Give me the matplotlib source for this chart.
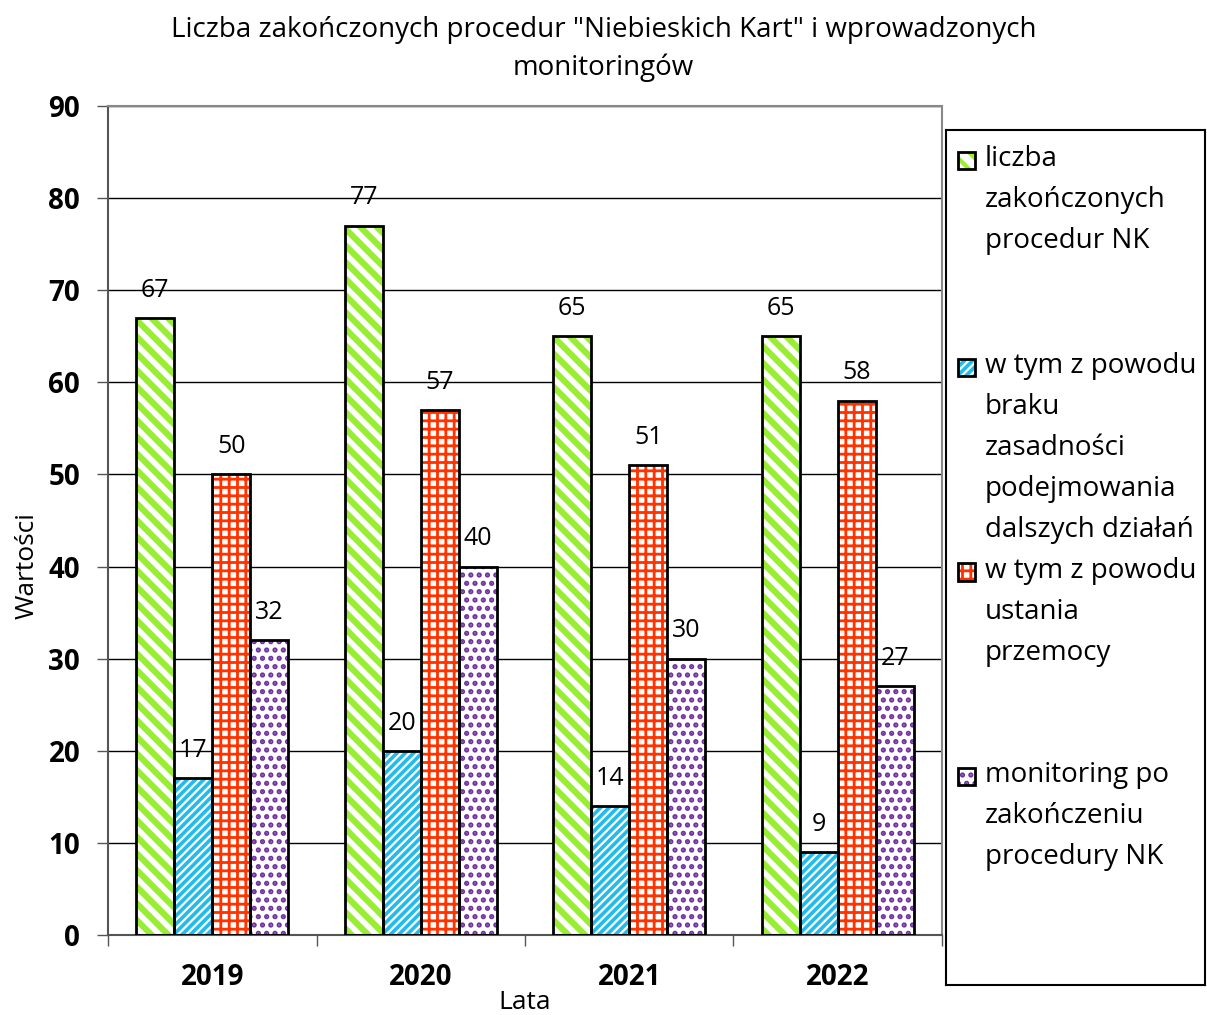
import matplotlib.pyplot as plt
import matplotlib.patches as mpatches
import numpy as np

plt.rcParams['font.family'] = ['Open Sans', 'DejaVu Sans']

years = ['2019', '2020', '2021', '2022']
series_labels = [
    'liczba\nzakończonych\nprocedur NK',
    'w tym z powodu\nbraku\nzasadności\npodejmowania\ndalszych działań',
    'w tym z powodu\nustania\nprzemocy',
    'monitoring po\nzakończeniu\nprocedury NK',
]
zakonczone = [67, 77, 65, 65]
brak_zasadnosci = [17, 20, 14, 9]
ustanie_przemocy = [50, 57, 51, 58]
monitoring = [32, 40, 30, 27]

values = [zakonczone, brak_zasadnosci, ustanie_przemocy, monitoring]
colors = ['#99ee33', '#22bbee', '#ff3300', '#7030a0']
hatches = ['\\\\', '////', '++', '..']
hatch_lw = [4.5, 2.6, 2.0, 2.5]

fig = plt.figure(figsize=(12.07, 10.15), dpi=100)
ax = fig.add_axes([108 / 1207, 80 / 1015, 834 / 1207, 829 / 1015])

x = np.arange(len(years))
width = 0.182
offsets = (np.arange(4) - 1.5) * width

for vals, col, hat, hlw, off in zip(values, colors, hatches, hatch_lw, offsets):
    with plt.rc_context({'hatch.linewidth': hlw}):
        ax.bar(x + off, vals, width, color='white', edgecolor=col, hatch=hat,
               linewidth=0, zorder=2)
    ax.bar(x + off, vals, width, fill=False, edgecolor='black',
           linewidth=2, zorder=3)
    for xi, v in zip(x + off, vals):
        ax.annotate(str(v), xy=(xi, v), xytext=(0, 11), textcoords='offset points',
                    ha='center', va='bottom', fontsize=18)

ax.set_xlim(-0.5, len(years) - 0.5)
ax.set_ylim(0, 90)
ax.set_yticks(np.arange(0, 91, 10))
ax.yaxis.grid(True, color='black', linewidth=1)
ax.set_axisbelow(True)
ax.tick_params(axis='y', labelsize=20, length=8, width=1, color='#555555', pad=12)
for lab in ax.get_yticklabels():
    lab.set_fontweight('bold')

ax.set_xticks(x)
ax.set_xticklabels(years, fontsize=20, fontweight='bold')
ax.tick_params(axis='x', length=0, pad=20)
ax.set_xticks(np.arange(-0.5, len(years), 1), minor=True)
ax.tick_params(axis='x', which='minor', length=8, width=1, color='#555555')

for s in ax.spines.values():
    s.set_color('#888888')
    s.set_linewidth(1.5)
ax.spines['bottom'].set_color('#555555')
ax.spines['left'].set_color('#555555')

ax.set_xlabel('Lata', fontsize=19)
ax.xaxis.set_label_coords(0.5, -0.066)
ax.set_ylabel('Wartości', fontsize=19)
ax.yaxis.set_label_coords(-0.082, 0.446)
fig.text(0.5, 1 - 16 / 1015,
         'Liczba zakończonych procedur "Niebieskich Kart" i wprowadzonych\nmonitoringów',
         ha='center', va='top', fontsize=20, linespacing=1.45)

# legend box
lax = fig.add_axes([946 / 1207, 30 / 1015, 259 / 1207, 855 / 1015])
lax.set_xlim(0, 1)
lax.set_ylim(0, 1)
lax.set_xticks([])
lax.set_yticks([])
for s in lax.spines.values():
    s.set_color('black')
    s.set_linewidth(1.5)
entry_tops = [0.982, 0.74, 0.501, 0.262]
for top, lab, col, hat, hlw in zip(entry_tops, series_labels, colors, hatches, hatch_lw):
    with plt.rc_context({'hatch.linewidth': min(hlw, 3.0)}):
        lax.add_patch(mpatches.Rectangle((0.046, top - 0.028), 0.066, 0.02,
                                         facecolor='white', edgecolor=col,
                                         hatch=hat, linewidth=0))
    lax.add_patch(mpatches.Rectangle((0.046, top - 0.028), 0.066, 0.02, fill=False,
                                     edgecolor='black', linewidth=2))
    lax.text(0.15, top, lab, ha='left', va='top', fontsize=20, linespacing=1.62)

fig.savefig('out.png', dpi=100)
